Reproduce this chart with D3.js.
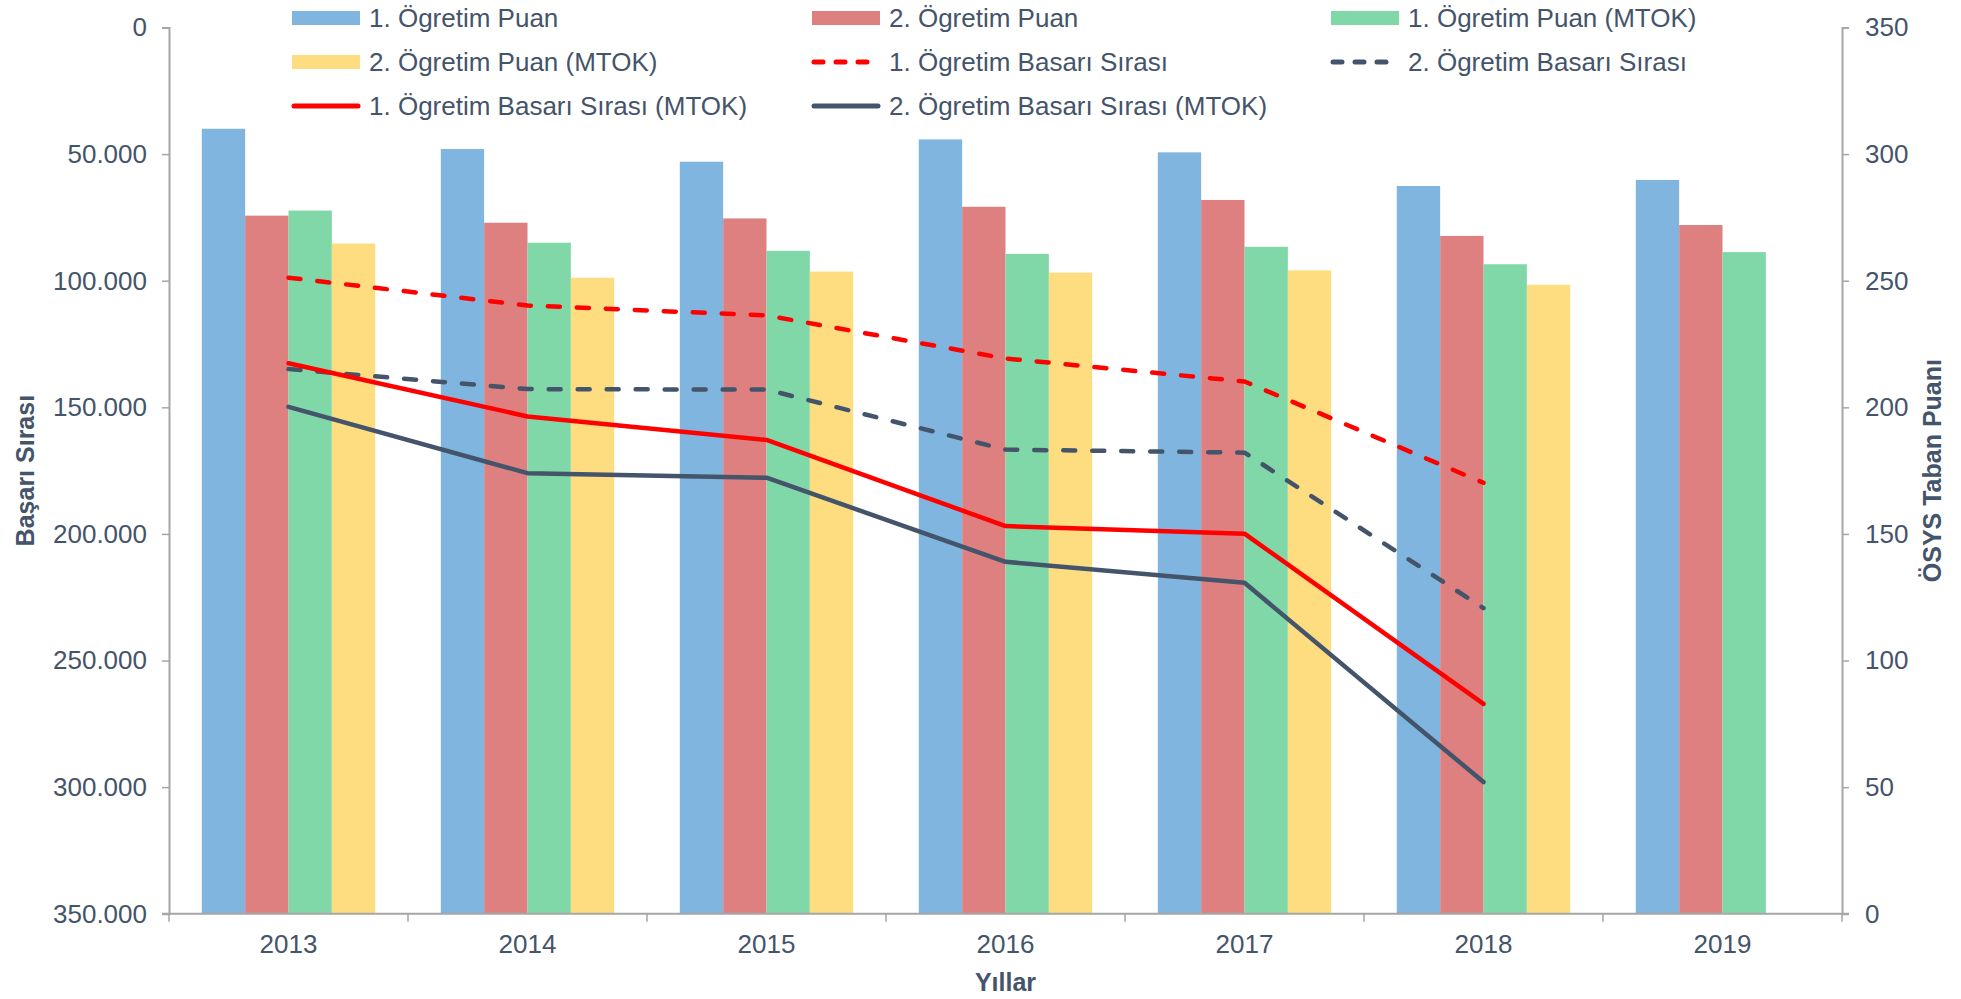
<!DOCTYPE html>
<html>
<head>
<meta charset="utf-8">
<script src="https://cdn.jsdelivr.net/npm/d3@7"></script>
<style>
  body { margin: 0; background: #fff; }
  svg text { font-family: "Liberation Sans", Arial, sans-serif; fill: #44546A; }
</style>
</head>
<body>
<script>
(function () {
  "use strict";

  // data
  var years = ["2013", "2014", "2015", "2016", "2017", "2018", "2019"];
  var ogr1Puan = [310, 302, 297, 305.8, 300.7, 287.4, 289.8];
  var ogr2Puan = [275.7, 272.9, 274.6, 279.2, 281.9, 267.7, 272];
  var ogr1PuanMtok = [277.7, 265, 261.8, 260.6, 263.4, 256.5, 261.3];
  var ogr2PuanMtok = [264.7, 251.2, 253.6, 253.2, 254.1, 248.4, null];
  var sira1 = [98800, 109800, 113700, 130700, 139800, 179800, null];
  var sira2 = [134900, 142800, 143000, 166700, 167900, 229300, null];
  var sira1Mtok = [132600, 153600, 162900, 196900, 199900, 267100, null];
  var sira2Mtok = [149800, 176000, 177800, 211000, 219300, 298000, null];
  var leftTicks = [0, 50000, 100000, 150000, 200000, 250000, 300000, 350000];
  var rightTicks = [0, 50, 100, 150, 200, 250, 300, 350];

  var barSeries = [
    {name: "1. Ögretim Puan", values: ogr1Puan, color: "#7FB5DE"},
    {name: "2. Ögretim Puan", values: ogr2Puan, color: "#DE8080"},
    {name: "1. Ögretim Puan (MTOK)", values: ogr1PuanMtok, color: "#80D8A8"},
    {name: "2. Ögretim Puan (MTOK)", values: ogr2PuanMtok, color: "#FEDD80"}
  ];
  var lineSeries = [
    {name: "1. Ögretim Basarı Sırası", values: sira1, color: "#FF0000", dash: true},
    {name: "2. Ögretim Basarı Sırası", values: sira2, color: "#44546A", dash: true},
    {name: "1. Ögretim Basarı Sırası (MTOK)", values: sira1Mtok, color: "#FF0000", dash: false},
    {name: "2. Ögretim Basarı Sırası (MTOK)", values: sira2Mtok, color: "#44546A", dash: false}
  ];

  var outerWidth = 1961,
      outerHeight = 999,
      margin = {top: 27.5, right: 119, bottom: 85.25, left: 169},
      width = outerWidth - margin.left - margin.right,
      height = outerHeight - margin.top - margin.bottom,
      axisColor = "#A6A6A6",
      dashArray = "12,17";

  var trLocale = d3.formatLocale({decimal: ",", thousands: ".", grouping: [3], currency: ["", " TL"]});
  var fmt = trLocale.format(",");

  var svg = d3.select("body").append("svg")
      .attr("width", outerWidth)
      .attr("height", outerHeight);
  var g = svg.append("g")
      .attr("transform", "translate(" + margin.left + "," + margin.top + ")");

  var x = d3.scaleBand().domain(years).range([0, width]);
  var xInner = d3.scaleBand().domain(d3.range(barSeries.length))
      .range([32.8, x.bandwidth() - 32.8]);
  var yLeft = d3.scaleLinear().domain([0, 350000]).range([0, height]);
  var yRight = d3.scaleLinear().domain([0, 350]).range([height, 0]);

  // bars
  barSeries.forEach(function (s, si) {
    g.append("g").selectAll("rect")
        .data(years.map(function (yr, i) { return {year: yr, v: s.values[i]}; })
          .filter(function (d) { return d.v !== null; }))
        .enter()
      .append("rect")
        .attr("x", function (d) { return x(d.year) + xInner(si); })
        .attr("width", xInner.bandwidth())
        .attr("y", function (d) { return yRight(d.v); })
        .attr("height", function (d) { return height - yRight(d.v); })
        .attr("fill", s.color);
  });

  // lines
  var line = d3.line()
      .defined(function (d) { return d.v !== null; })
      .x(function (d) { return x(d.year) + x.bandwidth() / 2; })
      .y(function (d) { return yLeft(d.v); });

  lineSeries.forEach(function (s) {
    g.append("path")
        .datum(years.map(function (yr, i) { return {year: yr, v: s.values[i]}; }))
        .attr("d", line)
        .attr("fill", "none")
        .attr("stroke", s.color)
        .attr("stroke-width", 4.5)
        .attr("stroke-linejoin", "round")
        .attr("stroke-linecap", "round")
        .attr("stroke-dasharray", s.dash ? dashArray : null);
  });

  function styleAxis(sel) {
    sel.selectAll("path.domain").attr("stroke", axisColor).attr("stroke-width", 2);
    sel.selectAll(".tick line").attr("stroke", axisColor).attr("stroke-width", 1.5);
    sel.selectAll(".tick text")
        .style("font-size", "26px")
        .attr("fill", "#44546A");
  }

  // left axis
  g.append("g")
      .call(d3.axisLeft(yLeft).tickValues(leftTicks).tickFormat(fmt)
        .tickSize(7).tickSizeOuter(7).tickPadding(15))
      .call(styleAxis);

  // right axis
  g.append("g")
      .attr("transform", "translate(" + width + ",0)")
      .call(d3.axisRight(yRight).tickValues(rightTicks)
        .tickSize(7).tickSizeOuter(7).tickPadding(16))
      .call(styleAxis);

  // bottom axis: labels at band centres, ticks on band edges
  var xAxis = g.append("g")
      .attr("transform", "translate(0," + height + ")")
      .call(d3.axisBottom(x).tickSize(0).tickPadding(21))
      .call(styleAxis);
  xAxis.select("path.domain").remove();
  xAxis.append("line")
      .attr("x1", -7).attr("x2", width + 7)
      .attr("stroke", axisColor).attr("stroke-width", 2);
  xAxis.selectAll(".edge")
      .data(d3.range(years.length + 1))
      .enter()
    .append("line")
      .attr("class", "edge")
      .attr("x1", function (i) { return i * x.step(); })
      .attr("x2", function (i) { return i * x.step(); })
      .attr("y1", 0).attr("y2", 8)
      .attr("stroke", axisColor).attr("stroke-width", 1.5);

  // axis titles
  svg.append("text")
      .attr("transform", "translate(34," + (margin.top + height / 2) + ") rotate(-90)")
      .attr("text-anchor", "middle")
      .style("font-size", "25px").style("font-weight", "bold")
      .text("Başarı Sırası");
  svg.append("text")
      .attr("transform", "translate(1941," + (margin.top + height / 2) + ") rotate(-90)")
      .attr("text-anchor", "middle")
      .style("font-size", "25px").style("font-weight", "bold")
      .text("ÖSYS Taban Puanı");
  svg.append("text")
      .attr("x", margin.left + width / 2)
      .attr("y", 991)
      .attr("text-anchor", "middle")
      .style("font-size", "25px").style("font-weight", "bold")
      .text("Yıllar");

  // legend
  var legendItems = [
    {s: barSeries[0], type: "bar"}, {s: barSeries[1], type: "bar"}, {s: barSeries[2], type: "bar"},
    {s: barSeries[3], type: "bar"}, {s: lineSeries[0], type: "line"}, {s: lineSeries[1], type: "line"},
    {s: lineSeries[2], type: "line"}, {s: lineSeries[3], type: "line"}
  ];
  var colX = [292, 812, 1331],
      rowY = [18, 62, 106],
      swatchW = 68;

  var legend = svg.append("g").selectAll("g")
      .data(legendItems)
      .enter()
    .append("g")
      .attr("transform", function (d, i) {
        return "translate(" + colX[i % 3] + "," + rowY[Math.floor(i / 3)] + ")";
      });

  legend.filter(function (d) { return d.type === "bar"; })
    .append("rect")
      .attr("x", 0).attr("y", -7)
      .attr("width", swatchW).attr("height", 14)
      .attr("fill", function (d) { return d.s.color; });

  legend.filter(function (d) { return d.type === "line"; })
    .append("line")
      .attr("x1", 2).attr("x2", swatchW - 2)
      .attr("y1", 0).attr("y2", 0)
      .attr("stroke", function (d) { return d.s.color; })
      .attr("stroke-width", 5)
      .attr("stroke-linecap", "round")
      .attr("stroke-dasharray", function (d) { return d.s.dash ? "9,13" : null; });

  legend.append("text")
      .attr("x", swatchW + 9)
      .attr("dy", "0.35em")
      .style("font-size", "26px")
      .text(function (d) { return d.s.name; });
}());
</script>
</body>
</html>
